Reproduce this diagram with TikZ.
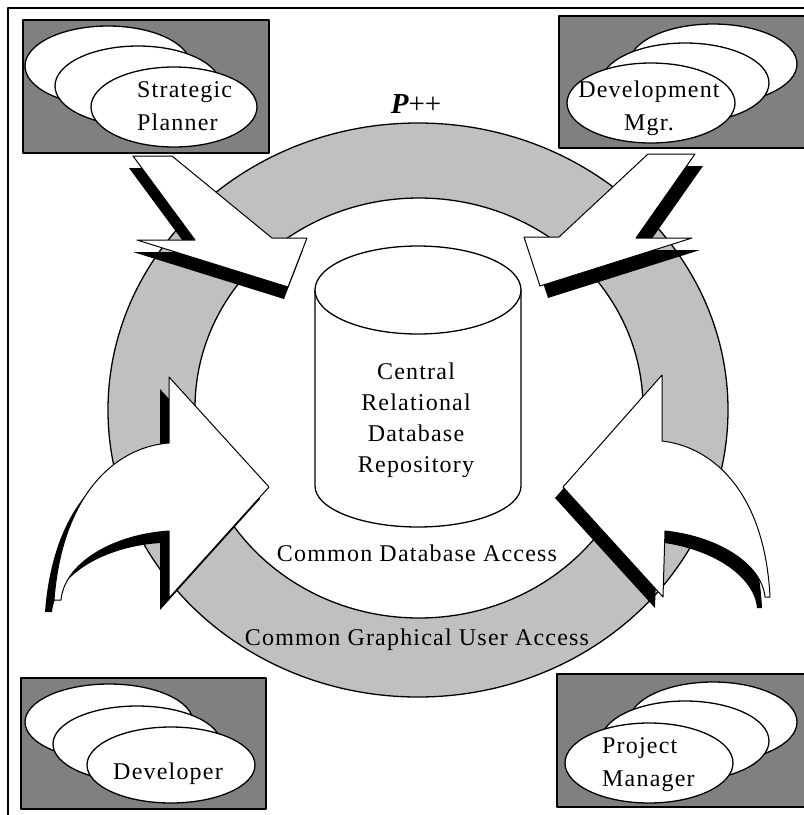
\documentclass[tikz,border=0pt]{standalone}
\usepackage{fontspec}
\setmainfont{Liberation Serif}
\newfontfamily\lblfont[LetterSpace=5]{Liberation Serif}
\definecolor{ringgray}{HTML}{C0C0C0}
\definecolor{boxgray}{HTML}{808080}
\begin{document}
\begin{tikzpicture}[x=1pt,y=-1pt,line join=round,
  rolebox/.style={fill=boxgray,draw=black,line width=1.3pt},
  roleoval/.style={fill=white,draw=black,line width=1.3pt},
  ringband/.style={fill=ringgray,draw=black,line width=1.3pt,even odd rule},
  cyl/.style={fill=white,draw=black,line width=1.3pt},
  bolt/.style={fill=white,draw=black,line width=1pt},
  shade/.style={fill=black,draw=none},
  lbl/.style={font=\lblfont\fontsize{24}{33}\selectfont,inner sep=0pt},
  dblbl/.style={font=\lblfont\fontsize{24}{31}\selectfont,inner sep=0pt}]
\useasboundingbox (0,0) rectangle (804,815);
\clip (0,0) rectangle (804,815);

% outer frame
\draw[line width=1.1pt] (8,830) -- (8,8) -- (830,8);

% role boxes with stacked ovals
\draw[rolebox] (23,20) rectangle (269,153);
\draw[roleoval] (108,66) ellipse [x radius=83pt,y radius=40pt];
\draw[roleoval] (138,86) ellipse [x radius=83pt,y radius=40pt];
\draw[roleoval] (174,107) ellipse [x radius=83pt,y radius=40pt];

\draw[rolebox] (559,16) rectangle (830,148);
\draw[roleoval] (713,64) ellipse [x radius=84pt,y radius=40pt];
\draw[roleoval] (685,83) ellipse [x radius=84pt,y radius=40pt];
\draw[roleoval] (651,103) ellipse [x radius=84pt,y radius=40pt];

\draw[rolebox] (21,678) rectangle (266,809);
\draw[roleoval] (109,722) ellipse [x radius=84pt,y radius=38pt];
\draw[roleoval] (137,744) ellipse [x radius=84pt,y radius=38pt];
\draw[roleoval] (171,765) ellipse [x radius=84pt,y radius=38pt];

\draw[rolebox] (557,674) rectangle (830,807);
\draw[roleoval] (713,722) ellipse [x radius=84pt,y radius=40pt];
\draw[roleoval] (685,741) ellipse [x radius=84pt,y radius=40pt];
\draw[roleoval] (649,763) ellipse [x radius=84pt,y radius=40pt];

% access ring
\draw[ringband] (418,410) ellipse [x radius=310pt,y radius=287pt]
                (419,408) ellipse [x radius=224pt,y radius=210pt];

% central repository cylinder
\draw[cyl] (315,290) -- (315,486)
  arc[start angle=180,end angle=360,x radius=103pt,y radius=41pt]
  -- (521,290) -- cycle;
\draw[cyl] (418,290) ellipse [x radius=103pt,y radius=44pt];

% bolt arrows from the upper roles
\begin{scope}[shift={(-4,12)}]
  \fill[shade] (133,156) -- (172,156) -- (272,238) -- (307,238) -- (288,287)
    -- (137,240) -- (195,240) -- cycle;
\end{scope}
\draw[bolt] (133,156) -- (172,156) -- (272,238) -- (307,238) -- (288,287)
  -- (137,240) -- (195,240) -- cycle;

\begin{scope}[shift={(8,12)}]
  \fill[shade] (648,154) -- (695,154) -- (636,238) -- (692,238) -- (540,286)
    -- (524,237) -- (559,237) -- cycle;
\end{scope}
\draw[bolt] (648,154) -- (695,154) -- (636,238) -- (692,238) -- (540,286)
  -- (524,237) -- (559,237) -- cycle;

% curved arrows from the lower roles
\begin{scope}[shift={(-9,12)}]
  \fill[shade] (269,487) -- (169,377) -- (169,443)
    .. controls (115,447) and (62,495) .. (54,600) -- (61,600)
    .. controls (64,565) and (110,535) .. (169,531) -- (169,598) -- cycle;
\end{scope}
\draw[bolt] (269,487) -- (169,377) -- (169,443)
  .. controls (115,447) and (62,495) .. (54,600) -- (61,600)
  .. controls (64,565) and (110,535) .. (169,531) -- (169,598) -- cycle;

\begin{scope}[shift={(-8,11)}]
  \fill[shade] (563,487) -- (662,375) -- (662,441)
    .. controls (715,447) and (765,495) .. (770,597) -- (765,597)
    .. controls (762,565) and (720,537) .. (665,531) -- (663,597) -- cycle;
\end{scope}
\draw[bolt] (563,487) -- (662,375) -- (662,441)
  .. controls (715,447) and (765,495) .. (770,597) -- (765,597)
  .. controls (762,565) and (720,537) .. (665,531) -- (663,597) -- cycle;

% texts
\node[lbl,text width=170pt,align=left,anchor=base west] (planner) at (137,97) {Strategic\\Planner};
\node[lbl,text width=170pt,align=center,anchor=base] (devmgr) at (649,97) {Development\\Mgr.};
\node[lbl,text width=170pt,align=center,anchor=base] (developer) at (168,779) {Developer};
\node[lbl,text width=170pt,align=left,anchor=base west] (projmgr) at (602,753) {Project\\Manager};
\node[font=\fontsize{29}{29}\selectfont,inner sep=0pt,anchor=base] (pp) at (416,113) {{\bfseries\itshape P}++};
\node[dblbl,text width=200pt,align=center,anchor=base] (repo) at (416,379) {Central\\Relational\\Database\\Repository};
\node[lbl,anchor=base] (dbaccess) at (417,561) {Common Database Access};
\node[lbl,anchor=base] (guiaccess) at (417,645) {Common Graphical User Access};
\end{tikzpicture}
\end{document}
